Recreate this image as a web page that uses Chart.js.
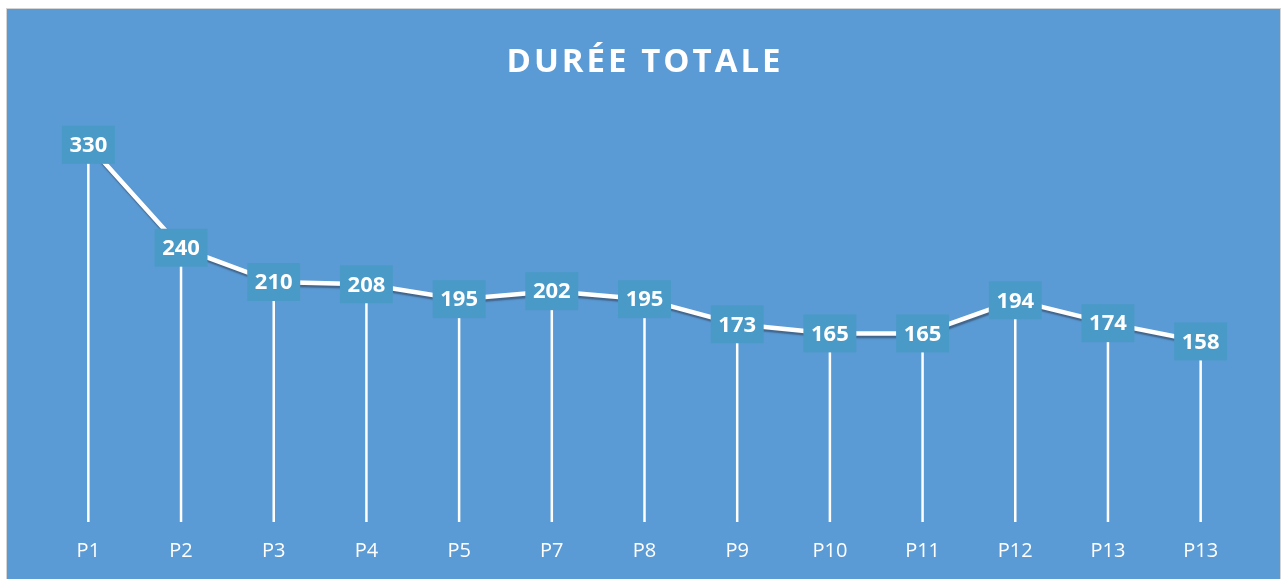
<!DOCTYPE html>
<html>
<head>
<meta charset="utf-8">
<script src="https://cdn.jsdelivr.net/npm/chart.js@4"></script>
<style>
  body { margin: 0; background: #ffffff; }
  .frame {
    position: absolute; left: 6px; top: 8px;
    width: 1273px; height: 571px;
    border: 1px solid #d4d4d4; border-bottom: none;
    background: #5b9bd5;
  }
  canvas { display: block; }
</style>
</head>
<body>
<div class="frame"><canvas id="chart" width="1273" height="571"></canvas></div>
<script>
// Durée totale par période
const periods = ['P1', 'P2', 'P3', 'P4', 'P5', 'P7', 'P8', 'P9', 'P10', 'P11', 'P12', 'P13', 'P13'];
const durations = [330, 240, 210, 208, 195, 202, 195, 173, 165, 165, 194, 174, 158];
const chartTitle = 'DURÉE TOTALE';

// Vertical drop lines from each point down to the axis
const dropLines = {
  id: 'dropLines',
  beforeDatasetsDraw(chart) {
    const { ctx, scales: { y } } = chart;
    const meta = chart.getDatasetMeta(0);
    ctx.save();
    ctx.strokeStyle = '#ffffff';
    ctx.lineWidth = 2.5;
    meta.data.forEach(pt => {
      ctx.beginPath();
      ctx.moveTo(pt.x, pt.y);
      ctx.lineTo(pt.x, y.getPixelForValue(0));
      ctx.stroke();
    });
    ctx.restore();
  }
};

// Soft shadow under the series line
const lineShadow = {
  id: 'lineShadow',
  beforeDatasetDraw(chart) {
    const ctx = chart.ctx;
    ctx.save();
    ctx.shadowColor = 'rgba(40, 50, 70, 0.5)';
    ctx.shadowBlur = 1.5;
    ctx.shadowOffsetX = 1;
    ctx.shadowOffsetY = 2.5;
  },
  afterDatasetDraw(chart) {
    chart.ctx.restore();
  }
};

// Value labels in filled boxes, centred on each point
const valueBoxes = {
  id: 'valueBoxes',
  afterDatasetsDraw(chart) {
    const { ctx } = chart;
    const meta = chart.getDatasetMeta(0);
    const values = chart.data.datasets[0].data;
    ctx.save();
    ctx.font = 'bold 22px "Open Sans"';
    ctx.textAlign = 'center';
    ctx.textBaseline = 'middle';
    meta.data.forEach((pt, i) => {
      const w = 53, h = 38;
      ctx.fillStyle = '#4a9ac8';
      ctx.fillRect(pt.x - w / 2, pt.y - h / 2, w, h);
      ctx.fillStyle = '#ffffff';
      ctx.fillText(String(values[i]), pt.x, pt.y + 1);
    });
    ctx.restore();
  }
};

// Letter-spaced title
const spacedTitle = {
  id: 'spacedTitle',
  afterDraw(chart) {
    const { ctx, width } = chart;
    ctx.save();
    ctx.font = 'bold 33px "Open Sans"';
    ctx.letterSpacing = '3px';
    ctx.fillStyle = '#ffffff';
    ctx.textAlign = 'center';
    ctx.textBaseline = 'middle';
    ctx.fillText(chartTitle, width / 2 + 1.5, 54);
    ctx.restore();
  }
};

new Chart(document.getElementById('chart'), {
  type: 'line',
  data: {
    labels: periods,
    datasets: [{
      label: 'Durée totale',
      data: durations,
      borderColor: '#ffffff',
      borderWidth: 4.5,
      pointRadius: 0,
      tension: 0,
      fill: false
    }]
  },
  options: {
    responsive: false,
    animation: false,
    layout: {
      padding: { left: 35, right: 33, top: 113, bottom: 0 }
    },
    plugins: {
      legend: { display: false },
      title: { display: false },
      tooltip: { enabled: false }
    },
    scales: {
      x: {
        offset: true,
        grid: { display: false, drawTicks: false },
        border: { display: false },
        ticks: {
          color: '#ffffff',
          padding: 17,
          font: { family: '"Open Sans"', size: 20 }
        }
      },
      y: {
        display: false,
        min: 0,
        max: 350
      }
    }
  },
  plugins: [dropLines, lineShadow, valueBoxes, spacedTitle]
});
</script>
</body>
</html>
